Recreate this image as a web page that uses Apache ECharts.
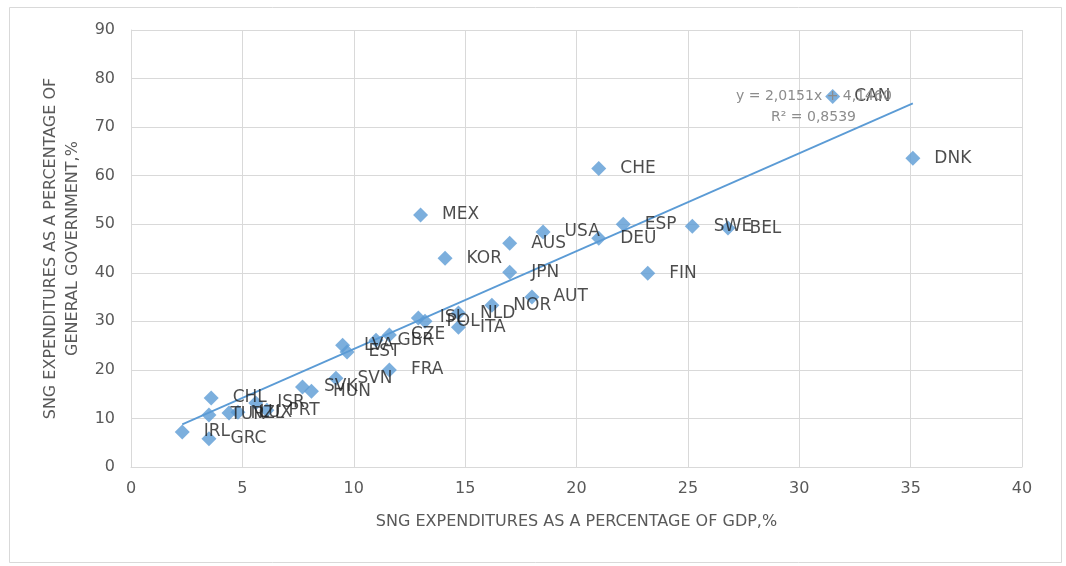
<!DOCTYPE html>
<html>
<head>
<meta charset="utf-8">
<script src="https://cdn.jsdelivr.net/npm/echarts@6/dist/echarts.min.js"></script>
<style>
html,body{margin:0;padding:0;background:#fff;}
#c{width:1066px;height:566px;}
</style>
</head>
<body>
<div id="c"></div>
<script>
// ---- data ----
const countries = ['DNK','CAN','CHE','BEL','SWE','FIN','ESP','DEU','USA','AUS','MEX','KOR','JPN','AUT','NOR','NLD','ITA','ISL','POL','CZE','GBR','LVA','EST','FRA','SVN','SVK','HUN','ISR','PRT','LUX','NZL','CHL','TUR','IRL','GRC'];
const pctGDP = [35.1,31.5,21.0,26.8,25.2,23.2,22.1,21.0,18.5,17.0,13.0,14.1,17.0,18.0,16.2,14.7,14.7,12.9,13.2,11.6,11.0,9.5,9.7,11.6,9.2,7.7,8.1,5.6,6.1,4.8,4.4,3.6,3.5,2.3,3.5];
const pctGG  = [63.6,76.3,61.5,49.2,49.6,39.9,50.0,47.1,48.4,46.1,51.9,43.0,40.1,35.0,33.3,31.7,28.8,30.7,30.0,27.2,26.1,25.1,23.7,20.0,18.3,16.5,15.6,13.2,11.7,11.3,11.1,14.2,10.7,7.2,5.8];
const trendSlope = 2.0151;
const trendIntercept = 4.146;
const eqText = 'y = 2,0151x + 4,1460';
const r2Text = 'R² = 0,8539';
const xTitle = 'SNG EXPENDITURES AS A PERCENTAGE OF GDP,%';
const yTitle = 'SNG EXPENDITURES AS A PERCENTAGE OF\nGENERAL GOVERNMENT,%';

// ---- build ----
const pts = countries.map((n,i)=>({name:n, value:[pctGDP[i], pctGG[i]]}));
const xmin = Math.min(...pctGDP), xmax = Math.max(...pctGDP);
const trend = [[xmin, trendSlope*xmin+trendIntercept],[xmax, trendSlope*xmax+trendIntercept]];

const FONT = 'DejaVu Sans';
const chart = echarts.init(document.getElementById('c'));
chart.setOption({
  animation:false,
  backgroundColor:'#fff',
  textStyle:{fontFamily:FONT},
  grid:{left:131,right:44,top:30,bottom:99},
  xAxis:{
    type:'value',min:0,max:40,interval:5,
    name:xTitle,nameLocation:'middle',nameGap:47,
    nameTextStyle:{fontSize:16,color:'#595959',fontFamily:FONT},
    axisLine:{show:true,lineStyle:{color:'#d9d9d9'}},
    axisTick:{show:false},
    axisLabel:{fontSize:16,color:'#595959',margin:14,fontFamily:FONT},
    splitLine:{show:true,lineStyle:{color:'#d9d9d9',width:1}}
  },
  yAxis:{
    type:'value',min:0,max:90,interval:10,
    name:yTitle,nameLocation:'middle',nameGap:47,nameRotate:90,
    nameTextStyle:{fontSize:16,color:'#595959',lineHeight:22,fontFamily:FONT},
    axisLine:{show:true,lineStyle:{color:'#d9d9d9'}},
    axisTick:{show:false},
    axisLabel:{fontSize:16,color:'#595959',margin:16,fontFamily:FONT},
    splitLine:{show:true,lineStyle:{color:'#d9d9d9',width:1}}
  },
  series:[
    {
      type:'line',data:trend,symbol:'none',silent:true,z:1,
      lineStyle:{color:'#5B9BD5',width:1.8}
    },
    {
      type:'scatter',data:pts,symbol:'diamond',symbolSize:15,z:2,
      itemStyle:{color:'#5B9BD5'},
      label:{show:true,position:'right',distance:14,formatter:'{b}',
             fontSize:17,color:'#1f1f1f',fontFamily:FONT},
      labelLayout:{hideOverlap:false}
    }
  ],
  graphic:[
    {type:'rect',left:7,top:5,shape:{width:1052,height:555},style:{fill:'none',stroke:'#d9d9d9',lineWidth:1},silent:true,z:-1},
    {type:'text',left:736,top:89,style:{text:eqText,fill:'#8c8c8c',font:'14px "DejaVu Sans"'},z:10},
    {type:'text',left:771,top:110,style:{text:r2Text,fill:'#8c8c8c',font:'14px "DejaVu Sans"'},z:10}
  ]
});
</script>
</body>
</html>
